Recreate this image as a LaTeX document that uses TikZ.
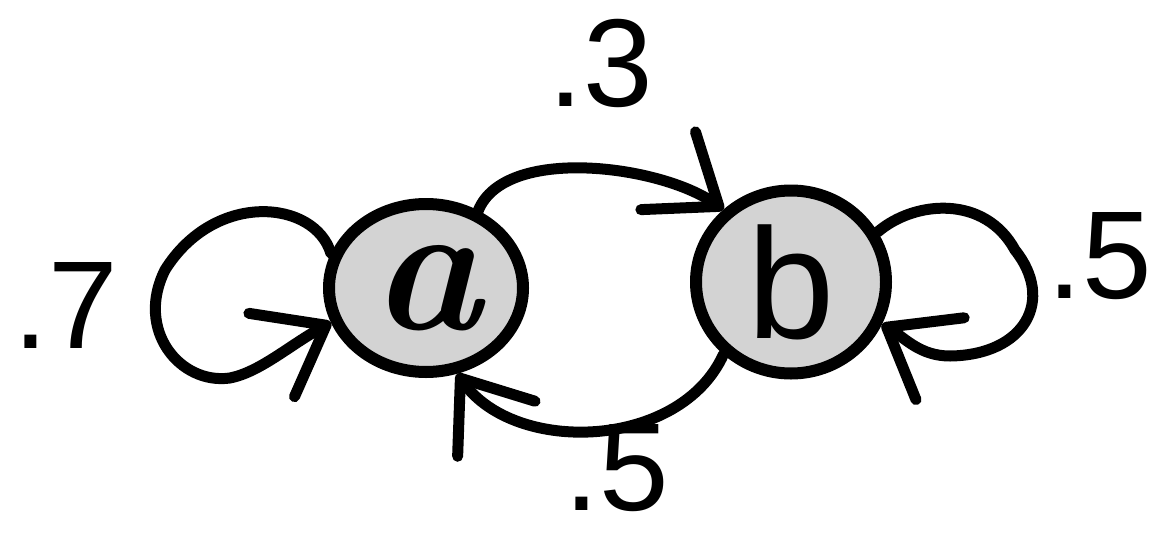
\documentclass[tikz,border=0pt]{standalone}
\usepackage{fontspec}
\newfontfamily\numfont{Liberation Sans}
\usetikzlibrary{arrows.meta,shapes.geometric}
\definecolor{nodegray}{RGB}{211,211,211}
\begin{document}
\begin{tikzpicture}[x=1pt,y=-1pt,
  state/.style={ellipse,draw,line width=12pt,fill=nodegray,inner sep=0pt},
  edge/.style={line width=11pt,line cap=round,line join=round},
  barb/.style={-{Straight Barb[length=62pt,width=95pt,round]}},
  prob/.style={anchor=base,inner sep=0pt,font=\numfont\fontsize{125}{125}\selectfont}]
\useasboundingbox (0,0) rectangle (1157,536);
% states
\node[state,minimum width=194pt,minimum height=168pt] (a) at (426,288)
  {\fontsize{186}{186}\selectfont\bfseries\itshape a};
\node[state,minimum width=190pt,minimum height=183pt] (b) at (791,282)
  {\numfont\fontsize{157}{157}\selectfont b};
% a -> b
\draw[edge,barb] (a.56) .. controls (505,145) and (660,165) .. (b.133);
% b -> a
\draw[edge,barb] (b.227) .. controls (680,450) and (515,455) .. (a.-70);
% a self-loop
\draw[edge,barb] (a.160) .. controls (315,200) and (215,190) .. (165,270)
  .. controls (135,330) and (180,385) .. (230,378)
  .. controls (260,372) and (290,345) .. (a.200);
% b self-loop
\draw[edge,barb] (b.30) .. controls (915,200) and (985,195) .. (1015,250)
  .. controls (1055,300) and (1025,355) .. (950,356)
  .. controls (920,356) and (905,338) .. (b.-25);
% probabilities
\node[prob] (p3) at (601,106) {.3};
\node[prob] (p7) at (66,348) {.7};
\node[prob,anchor=base east] (p5r) at (1152,298) {.5};
\node[prob] (p5b) at (617,510) {.5};
\end{tikzpicture}
\end{document}
